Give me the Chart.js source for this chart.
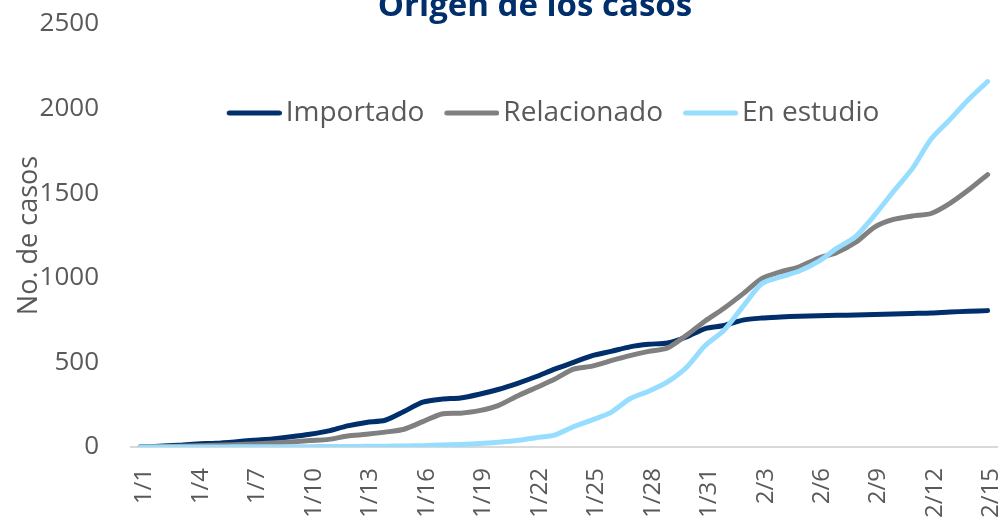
<!DOCTYPE html>
<html>
<head>
<meta charset="utf-8">
<script src="https://cdn.jsdelivr.net/npm/chart.js@4.4.1/dist/chart.umd.min.js"></script>
<style>
  html, body { margin: 0; padding: 0; background: #ffffff; }
  #wrap { width: 1007px; height: 526px; position: relative; }
</style>
</head>
<body>
<div id="wrap"><canvas id="casosChart"></canvas></div>
<script>
// --- datos ---
const fechas = [
    '1/1', '1/2', '1/3', '1/4', '1/5', '1/6', '1/7', '1/8', '1/9', '1/10',
    '1/11', '1/12', '1/13', '1/14', '1/15', '1/16', '1/17', '1/18', '1/19', '1/20',
    '1/21', '1/22', '1/23', '1/24', '1/25', '1/26', '1/27', '1/28', '1/29', '1/30',
    '1/31', '2/1', '2/2', '2/3', '2/4', '2/5', '2/6', '2/7', '2/8', '2/9',
    '2/10', '2/11', '2/12', '2/13', '2/14', '2/15'
];
const importado = [
    1, 4, 10, 18, 22, 30, 40, 48, 60, 75,
    95, 125, 145, 158, 210, 265, 283, 290, 312, 340,
    375, 415, 460, 500, 540, 565, 592, 607, 615, 650,
    700, 718, 750, 762, 768, 773, 776, 778, 780, 783,
    786, 789, 792, 798, 802, 806
];
const relacionado = [
    0, 2, 4, 7, 10, 14, 18, 24, 30, 38,
    45, 65, 75, 88, 105, 150, 195, 200, 215, 245,
    300, 350, 400, 460, 478, 510, 540, 565, 585, 660,
    745, 820, 905, 995, 1035, 1065, 1115, 1150, 1210, 1300,
    1345, 1365, 1380, 1440, 1520, 1610
];
const enEstudio = [
    0, 0, 0, 0, 0, 1, 1, 1, 2, 2,
    3, 3, 4, 5, 6, 8, 12, 15, 20, 28,
    38, 55, 70, 120, 160, 205, 285, 330, 385, 470,
    600, 690, 830, 965, 1005, 1040, 1095, 1175, 1245, 1370,
    1510, 1645, 1820, 1935, 2055, 2160
];
const ticksY = [0, 500, 1000, 1500, 2000, 2500];

const FUENTE = "'Open Sans', 'DejaVu Sans', sans-serif";
const GRIS_TEXTO = '#595959';

// linea de leyenda: 55px visibles, desplazada para dejar 4px antes del texto
function lineaLeyenda(color) {
    const c = document.createElement('canvas');
    c.width = 65;
    c.height = 8;
    const g = c.getContext('2d');
    g.strokeStyle = color;
    g.lineWidth = 5;
    g.lineCap = 'round';
    g.beginPath();
    g.moveTo(12.5, 4);
    g.lineTo(62.5, 4);
    g.stroke();
    return c;
}

const tituloPlugin = {
    id: 'tituloArriba',
    beforeUpdate(chart) {
        // leyenda en una sola fila dentro del area del grafico
        if (chart.legend) chart.legend.isHorizontal = () => true;
    },
    afterLayout(chart) {
        const lg = chart.legend;
        if (lg) {
            lg.left = chart.chartArea.left - 11;
            lg.right = lg.left + lg.width;
        }
    },
    afterDraw(chart) {
        const ctx = chart.ctx;
        ctx.save();
        ctx.font = "bold 33px " + FUENTE;
        ctx.fillStyle = '#002F6C';
        ctx.textAlign = 'center';
        ctx.textBaseline = 'alphabetic';
        ctx.fillText('Origen de los casos', 535, 16);
        ctx.restore();
    }
};

function serie(label, data, color, orden) {
    return {
        label: label,
        data: data,
        borderColor: color,
        backgroundColor: color,
        borderWidth: 5,
        borderCapStyle: 'round',
        borderJoinStyle: 'round',
        tension: 0.25,
        pointRadius: 0,
        pointHoverRadius: 0,
        pointStyle: lineaLeyenda(color),
        fill: false,
        order: orden
    };
}

new Chart(document.getElementById('casosChart'), {
    type: 'line',
    data: {
        labels: fechas,
        datasets: [
            serie('Importado', importado, '#002F6C', 3),
            serie('Relacionado', relacionado, '#808080', 2),
            serie('En estudio', enEstudio, '#97DDFF', 1)
        ]
    },
    options: {
        responsive: true,
        maintainAspectRatio: false,
        animation: false,
        layout: { padding: { top: 24, right: 10, left: 0, bottom: 0 } },
        scales: {
            x: {
                offset: true,
                grid: { display: false, drawTicks: false },
                border: { display: true, color: '#D9D9D9', width: 2 },
                ticks: {
                    autoSkip: false,
                    minRotation: 90,
                    maxRotation: 90,
                    padding: 21,
                    labelOffset: 4,
                    color: GRIS_TEXTO,
                    font: { family: FUENTE, size: 24 },
                    callback: function(value, index) {
                        return index % 3 === 0 ? this.getLabelForValue(value) : '';
                    }
                },
                afterFit: function(scale) {
                    scale.height = 79;
                    scale.paddingLeft = 0;
                    scale.paddingRight = 0;
                }
            },
            y: {
                min: 0,
                max: 2500,
                afterBuildTicks: function(scale) {
                    scale.ticks = ticksY.map(v => ({ value: v }));
                },
                grid: { display: false, drawTicks: false },
                border: { display: false },
                ticks: {
                    padding: 32,
                    color: GRIS_TEXTO,
                    font: { family: FUENTE, size: 26 },
                    callback: function(value) { return String(value); }
                },
                title: {
                    display: true,
                    text: 'No. de casos',
                    color: GRIS_TEXTO,
                    font: { family: FUENTE, size: 27 },
                    padding: { top: 13, bottom: 0 }
                },
                afterFit: function(scale) {
                    scale.width = 131;
                    scale.paddingTop = 0;
                    scale.paddingBottom = 0;
                }
            }
        },
        plugins: {
            legend: {
                position: 'chartArea',
                align: 'center',
                title: {
                    display: true,
                    text: '',
                    font: { size: 10 },
                    padding: { top: 43, bottom: 0 }
                },
                labels: {
                    usePointStyle: true,
                    pointStyleWidth: 45,
                    padding: 20,
                    color: GRIS_TEXTO,
                    font: { family: FUENTE, size: 28 },
                    sort: (a, b) => a.datasetIndex - b.datasetIndex
                }
            },
            tooltip: { enabled: false }
        }
    },
    plugins: [tituloPlugin]
});
</script>
</body>
</html>
